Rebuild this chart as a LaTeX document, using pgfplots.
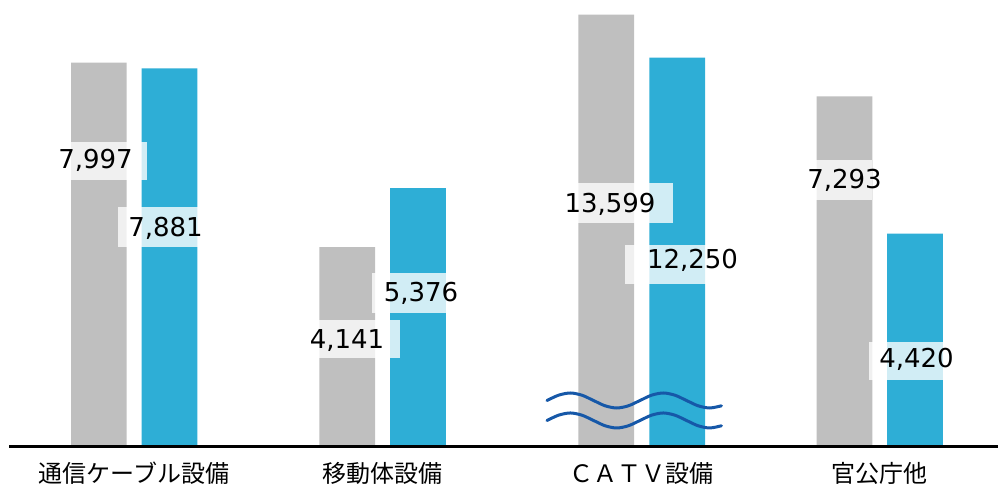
\documentclass[border=0pt]{standalone}
\usepackage{pgfplots}
\pgfplotsset{compat=1.18}
\usepackage{pgfplotstable}
\usepackage{fontspec}
\setmainfont{DejaVu Sans}
\newfontfamily\cjk{Noto Sans CJK JP}
\definecolor{bargray}{RGB}{191,191,191}
\definecolor{barblue}{RGB}{46,174,214}
\definecolor{wavecol}{RGB}{22,88,168}

% bar heights (CATV bars drawn on a broken axis: real values 13,599 and 12,250)
\pgfplotstableread{
x y
98.85 7997
347.2 4141
606.2 9002
844.5 7293
}\grayt
\pgfplotstableread{
x y
169.5 7881
417.9 5376
677.2 8103
915.0 4420
}\bluet
\pgfplotstableread{
x y label
95.5 5774 7,997
165.5 4372 7,881
347.0 2029 4,141
421.0 2992 5,376
610.0 4854 13,599
692.5 3682 12,250
844.5 5356 7,293
916.5 1611 4,420
}\labelst

\begin{document}
\begin{tikzpicture}
\begin{axis}[
  scale only axis, width=998pt, height=445pt,
  xmin=0, xmax=998, ymin=0, ymax=9309.6,
  clip=false,
  axis line style={draw=none},
  major tick length=0pt,
  ytick=\empty,
  xtick={134.2,382.5,641.7,879.7},
  xticklabels={通信ケーブル設備,移動体設備,ＣＡＴＶ設備,官公庁他},
  xticklabel style={font=\cjk\fontsize{24}{28}\selectfont, anchor=base, inner sep=0pt, yshift=-38pt},
]
\coordinate (SW) at (rel axis cs:0,0);
\coordinate (NE) at (rel axis cs:1,1);
\addplot[ybar, bar width=55.7, bar shift=0pt, fill=bargray, draw=none] table[x=x,y=y] {\grayt};
\addplot[ybar, bar width=55.7, bar shift=0pt, fill=barblue, draw=none] table[x=x,y=y] {\bluet};
% break marks
\draw[wavecol, line width=3pt, line cap=round] plot[smooth] coordinates {
 (547,931) (558.6,1042) (570.25,1088) (581.9,1042) (593.5,931) (605.1,820) (616.75,774) (628.4,820)
 (640,931) (651.6,1042) (663.25,1088) (674.9,1042) (686.5,931) (698.1,820) (709.75,774) (721.4,820)};
\draw[wavecol, line width=3pt, line cap=round] plot[smooth] coordinates {
 (547,513) (558.6,624) (570.25,670) (581.9,624) (593.5,513) (605.1,402) (616.75,356) (628.4,402)
 (640,513) (651.6,624) (663.25,670) (674.9,624) (686.5,513) (698.1,402) (709.75,356) (721.4,402)};
% label boxes
\fill[white, opacity=0.78] (axis cs:70,5544) rectangle (axis cs:147,6339);
\fill[white, opacity=0.78] (axis cs:118,4142) rectangle (axis cs:202,4979);
\fill[white, opacity=0.78] (axis cs:578,4644) rectangle (axis cs:673,5481);
\fill[white, opacity=0.78] (axis cs:625,3368) rectangle (axis cs:722,4184);
\fill[white, opacity=0.78] (axis cs:372,2762) rectangle (axis cs:447,3598);
\fill[white, opacity=0.78] (axis cs:318,1820) rectangle (axis cs:400,2615);
\fill[white, opacity=0.78] (axis cs:816,5126) rectangle (axis cs:872,5962);
\fill[white, opacity=0.78] (axis cs:869,1360) rectangle (axis cs:943,2155);
\addplot[draw=none, mark=none, nodes near coords, point meta=explicit symbolic,
  every node near coord/.append style={anchor=base, inner sep=0pt, font=\fontsize{26}{30}\selectfont, text=black}]
  table[x=x, y=y, meta=label] {\labelst};
\draw[black, line width=3pt] ([yshift=-1.5pt]axis cs:9,0) -- ([yshift=-1.5pt]axis cs:998,0);
\end{axis}
\pgfresetboundingbox
\path[use as bounding box] ([yshift=-43pt]SW) rectangle (NE);
\end{tikzpicture}
\end{document}
